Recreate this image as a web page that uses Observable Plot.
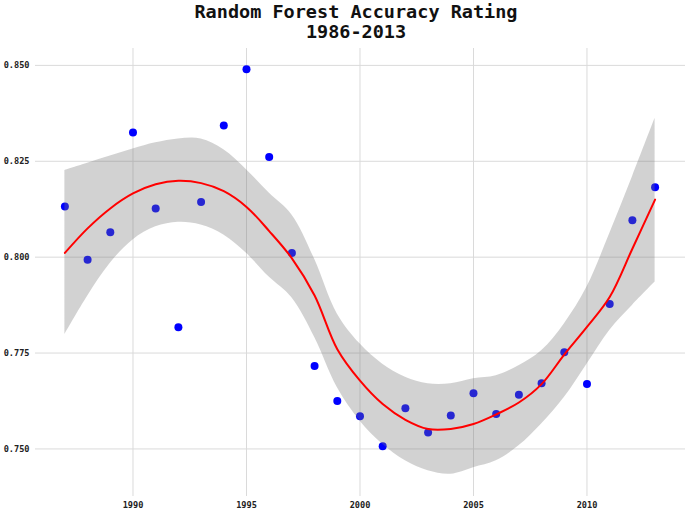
<!DOCTYPE html>
<html>
<head>
<meta charset="utf-8">
<script src="https://cdn.jsdelivr.net/npm/d3@7"></script>
<script src="https://cdn.jsdelivr.net/npm/@observablehq/plot@0.6"></script>
<style>
  html, body { margin: 0; padding: 0; background: #fff; }
  #wrap { width: 685px; height: 510px; overflow: hidden; }
  #title {
    box-sizing: border-box; width: 685px; height: 45px; padding-top: 2px; padding-left: 27px;
    text-align: center; font-family: "DejaVu Sans Mono", monospace; font-weight: bold;
    font-size: 18.5px; line-height: 20px; color: #111;
  }
  svg { display: block; }
</style>
</head>
<body>
<div id="wrap">
  <div id="title">Random Forest Accuracy Rating<br>1986-2013</div>
  <div id="chart"></div>
</div>
<script>
const years = [1987,1988,1989,1990,1991,1992,1993,1994,1995,1996,1997,1998,1999,2000,
               2001,2002,2003,2004,2005,2006,2007,2008,2009,2010,2011,2012,2013];
const accuracy = [0.8132,0.7993,0.8065,0.8325,0.8127,0.7817,0.8144,0.8343,0.8490,0.8261,
                  0.8011,0.7716,0.7625,0.7585,0.7507,0.7606,0.7543,0.7587,0.7645,0.7591,
                  0.7641,0.7671,0.7752,0.7669,0.7878,0.8096,0.8182];
const fitValues = [0.8011,0.8075,0.8127,0.8166,0.8190,0.8199,0.8193,0.8172,0.8131,0.8068,
                   0.7997,0.7900,0.7760,0.7678,0.7617,0.7576,0.7552,0.7552,0.7565,0.7590,
                   0.7621,0.7669,0.7746,0.7818,0.7896,0.8022,0.8150];
const bandLower = [0.7798,0.7898,0.7984,0.8045,0.8079,0.8091,0.8084,0.8058,0.8010,0.7948,
                   0.7894,0.7791,0.7660,0.7573,0.7512,0.7469,0.7443,0.7434,0.7451,0.7469,
                   0.7508,0.7565,0.7634,0.7721,0.7809,0.7874,0.7935];
const bandUpper = [0.8226,0.8245,0.8264,0.8282,0.8298,0.8308,0.8308,0.8280,0.8228,0.8167,
                   0.8110,0.7995,0.7852,0.7774,0.7721,0.7687,0.7670,0.7670,0.7683,0.7691,
                   0.7717,0.7756,0.7826,0.7922,0.8061,0.8209,0.8362];
const xTicks = [1990,1995,2000,2005,2010];
const yTicks = [0.750,0.775,0.800,0.825,0.850];

const rows = years.map((yr, i) => ({
  year: yr, acc: accuracy[i], fit: fitValues[i], lo: bandLower[i], hi: bandUpper[i]
}));

const chart = Plot.plot({
  width: 685,
  height: 465,
  marginTop: 3,
  marginBottom: 14,
  marginLeft: 35,
  marginRight: 0,
  style: { fontFamily: "DejaVu Sans Mono, monospace", fontSize: "8.6px", color: "#222", background: "white" },
  x: { domain: [1985.705, 2014.34], ticks: xTicks, tickFormat: d => String(d), tickSize: 0, tickPadding: 5, label: null },
  y: { domain: [0.7376, 0.8544], ticks: yTicks, tickFormat: d3.format(".3f"), tickSize: 0, tickPadding: 6, label: null },
  marks: [
    Plot.ruleX(xTicks, { stroke: "#dadada", strokeWidth: 1 }),
    Plot.ruleY(yTicks, { stroke: "#dadada", strokeWidth: 1 }),
    Plot.dot(rows, { x: "year", y: "acc", r: 4, fill: "#0000ff", stroke: "none" }),
    Plot.areaY(rows, { x: "year", y1: "lo", y2: "hi", fill: "#777777", fillOpacity: 0.33, curve: "catmull-rom" }),
    Plot.line(rows, { x: "year", y: "fit", stroke: "#ff0000", strokeWidth: 2, curve: "catmull-rom" }),
    Plot.axisX({ ticks: xTicks, tickFormat: d => String(d), tickSize: 0, tickPadding: 5, fontWeight: "bold" }),
    Plot.axisY({ ticks: yTicks, tickFormat: d3.format(".3f"), tickSize: 0, tickPadding: 6, fontWeight: "bold" })
  ]
});
document.getElementById("chart").appendChild(chart);
</script>
</body>
</html>
